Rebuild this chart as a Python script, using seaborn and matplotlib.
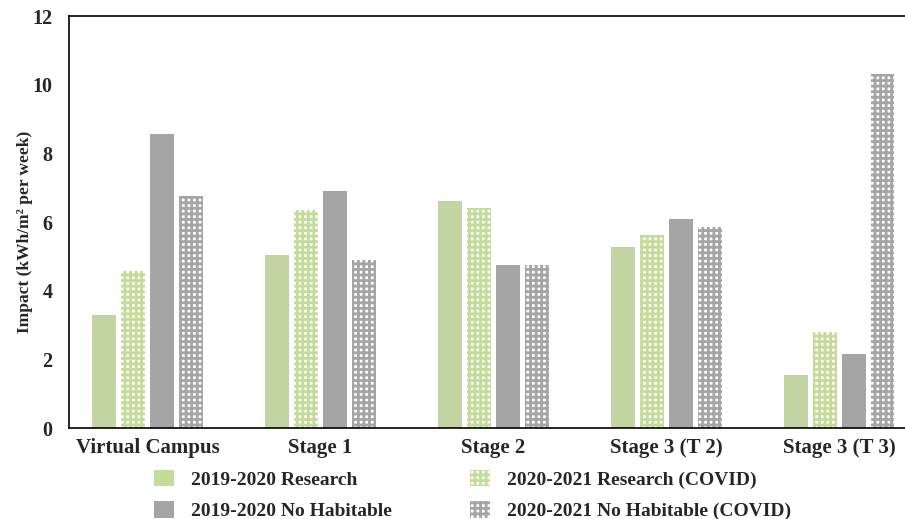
import seaborn as sns
import matplotlib.pyplot as plt
import pandas as pd
from matplotlib.patches import Patch

# Data
sites = ["Virtual Campus", "Stage 1", "Stage 2", "Stage 3 (T 2)", "Stage 3 (T 3)"]
series = ["2019-2020 Research", "2020-2021 Research (COVID)",
          "2019-2020 No Habitable", "2020-2021 No Habitable (COVID)"]
research_1920 = [3.3, 5.05, 6.6, 5.27, 1.53]
research_2021 = [4.57, 6.35, 6.4, 5.62, 2.8]
nohab_1920 = [8.55, 6.9, 4.75, 6.1, 2.17]
nohab_2021 = [6.76, 4.9, 4.75, 5.85, 10.3]

colors = ["#C3DC9A", "#C3DC9A", "#A5A5A5", "#A5A5A5"]
hatched = [False, True, False, True]


def build_frame():
    """Long-form table for seaborn."""
    rows = []
    for name, values in zip(series, [research_1920, research_2021,
                                     nohab_1920, nohab_2021]):
        for site, v in zip(sites, values):
            rows.append({"Site": site, "Series": name, "Impact": v})
    return pd.DataFrame(rows)


def make_handle(name, c, h):
    if h:
        return Patch(facecolor="white", edgecolor=c, hatch="+++",
                     linewidth=0, label=name)
    return Patch(facecolor=c, linewidth=0, label=name)


def main():
    sns.set_theme(style="white")
    plt.rcParams["font.family"] = ["Liberation Serif", "DejaVu Serif"]
    plt.rcParams["font.weight"] = "bold"
    plt.rcParams["hatch.linewidth"] = 2.0

    df = build_frame()

    fig = plt.figure(figsize=(9.05, 5.19), dpi=100)
    ax = fig.add_axes([0.0762, 0.1753, 0.9238, 0.7938])

    sns.barplot(data=df, x="Site", y="Impact", hue="Series",
                hue_order=series, order=sites, palette=colors,
                width=0.67, gap=0.2, linewidth=0, ax=ax, legend=False)

    # lattice pattern for the COVID years
    for container, c, h in zip(ax.containers, colors, hatched):
        if not h:
            continue
        for bar in container:
            bar.set_facecolor("white")
            bar.set_edgecolor(c)
            bar.set_hatch("+++")
            bar.set_linewidth(0)

    ax.set_xlim(-0.454, 4.379)
    ax.set_ylim(0, 12)
    ax.set_yticks(range(0, 13, 2))
    ax.set_xlabel("")
    ax.set_ylabel("Impact (kWh/m² per week)", fontsize=12.5,
                  fontweight="bold")
    ax.yaxis.set_label_coords(-0.043, 0.476)
    ax.tick_params(axis="y", direction="in", length=4, labelsize=14.5,
                   width=1, pad=12)
    ax.tick_params(axis="x", length=0, labelsize=15, pad=7)
    for lab in ax.get_xticklabels() + ax.get_yticklabels():
        lab.set_fontweight("bold")

    for side in ["left", "bottom", "top"]:
        ax.spines[side].set_color("black")
        ax.spines[side].set_linewidth(1.2)
    ax.spines["right"].set_visible(False)

    handles = [make_handle(n, c, h) for n, c, h in zip(series, colors, hatched)]
    # two legend columns placed separately
    for cols, x0 in [([0, 2], 0.170), ([1, 3], 0.519)]:
        fig.legend(handles=[handles[i] for i in cols], loc="upper left",
                   bbox_to_anchor=(x0, 0.095), frameon=False,
                   prop={"size": 14, "weight": "bold"},
                   handlelength=1.03, handleheight=0.95,
                   handletextpad=0.87, labelspacing=0.62,
                   borderpad=0, borderaxespad=0)

    fig.savefig("out.png", dpi=100)


if __name__ == "__main__":
    main()
